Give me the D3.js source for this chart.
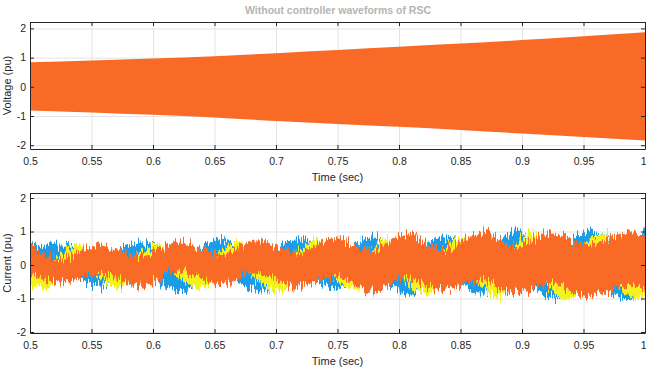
<!DOCTYPE html>
<html>
<head>
<meta charset="utf-8">
<script src="https://cdn.jsdelivr.net/npm/d3@7"></script>
<style>
  body { margin: 0; background: #fff; }
  text { font-family: "Liberation Sans", Arial, sans-serif; }
</style>
</head>
<body>
<script>
// axis ticks
const xTicks = [0.5, 0.55, 0.6, 0.65, 0.7, 0.75, 0.8, 0.85, 0.9, 0.95, 1];
const xTickLabels = ["0.5", "0.55", "0.6", "0.65", "0.7", "0.75", "0.8", "0.85", "0.9", "0.95", "1"];
const yTicks = [-2, -1, 0, 1, 2];
const yTickLabels = ["-2", "-1", "0", "1", "2"];

// top panel: voltage envelope (pu)
const voltageTime  = [0.5, 0.55, 0.6, 0.65, 0.7, 0.75, 0.8, 0.85, 0.9, 0.95, 1.0];
const voltageUpper = [0.84, 0.9, 0.97, 1.05, 1.15, 1.26, 1.37, 1.48, 1.6, 1.73, 1.87];
const voltageLower = [-0.81, -0.88, -0.96, -1.05, -1.17, -1.27, -1.37, -1.48, -1.6, -1.72, -1.84];

// bottom panel: current envelopes (pu), read at the peaks / dips of each band
const blueTime  = [0.5, 0.527, 0.557, 0.592, 0.622, 0.657, 0.688, 0.72, 0.75, 0.778, 0.808, 0.838, 0.868, 0.896, 0.927, 0.955, 0.988, 1.0];
const blueUpper = [0.55, 0.64, 0.3, 0.68, 0.35, 0.78, 0.4, 0.78, 0.45, 0.82, 0.5, 0.86, 0.55, 0.98, 0.6, 1.0, 0.62, 1.15];
const blueLower = [-0.3, -0.25, -0.62, -0.3, -0.78, -0.3, -0.82, -0.35, -0.72, -0.4, -0.86, -0.45, -0.86, -0.5, -1.0, -0.55, -1.05, -0.6];

const yellowTime  = [0.5, 0.51, 0.54, 0.572, 0.605, 0.638, 0.668, 0.7, 0.733, 0.765, 0.79, 0.822, 0.85, 0.88, 0.907, 0.937, 0.963, 0.993, 1.0];
const yellowUpper = [0.15, 0.08, 0.56, 0.08, 0.6, 0.1, 0.68, 0.12, 0.72, 0.15, 0.78, 0.2, 0.84, 0.25, 0.94, 0.3, 0.9, 0.35, 0.4];
const yellowLower = [-0.62, -0.68, -0.08, -0.65, -0.08, -0.7, -0.1, -0.78, -0.12, -0.78, -0.15, -0.85, -0.2, -0.93, -0.25, -1.04, -0.3, -1.02, -0.95];

const orangeTime  = [0.5, 0.525, 0.555, 0.59, 0.622, 0.655, 0.685, 0.717, 0.748, 0.776, 0.806, 0.835, 0.868, 0.893, 0.925, 0.952, 0.988, 1.0];
const orangeUpper = [0.52, 0.16, 0.62, 0.26, 0.7, 0.33, 0.74, 0.37, 0.8, 0.44, 0.92, 0.47, 0.97, 0.56, 1.0, 0.6, 0.95, 0.85];
const orangeLower = [-0.25, -0.52, -0.26, -0.62, -0.2, -0.6, -0.24, -0.65, -0.34, -0.8, -0.39, -0.75, -0.44, -0.85, -0.52, -0.95, -0.62, -0.8];

(()=>{
    const width = 646;
    const height = 378;
    const plotLeft = 30;
    const plotRight = 645;
    const axisColor = "#262626";
    const gridColor = "#e4e4e4";

    const svg = d3.create("svg")
    .attr("width", width)
    .attr("height", height)
    .attr("viewBox", [0, 0, width, height]);

    const defs = svg.append("defs");

    // makes the edges of the current bands spiky like the noisy waveform
    // (vertical displacement only: the red channel is pinned to 0.5)
    const rough = defs.append("filter")
    .attr("id", "rough")
    .attr("filterUnits", "userSpaceOnUse")
    .attr("x", 0).attr("y", 180).attr("width", width).attr("height", 170);
    rough.append("feTurbulence")
    .attr("type", "fractalNoise")
    .attr("baseFrequency", "0.6 0.05")
    .attr("numOctaves", 2)
    .attr("seed", 7)
    .attr("result", "noise");
    rough.append("feColorMatrix")
    .attr("in", "noise")
    .attr("type", "matrix")
    .attr("values", "0 0 0 0 0.5  0 1 0 0 0  0 0 1 0 0  0 0 0 0 1")
    .attr("result", "vnoise");
    rough.append("feDisplacementMap")
    .attr("in", "SourceGraphic")
    .attr("in2", "vnoise")
    .attr("scale", 22)
    .attr("xChannelSelector", "R")
    .attr("yChannelSelector", "G");

    const x = d3.scaleLinear().domain([0.5, 1]).range([plotLeft, plotRight]);

    const panels = [
        { top: 22, bottom: 149, domain: [-2.13, 2.22], ylabel: "Voltage (pu)" },
        { top: 193, bottom: 333, domain: [-2.03, 2.15], ylabel: "Current (pu)" }
    ];

    panels.forEach((p, k) => {
        p.y = d3.scaleLinear().domain(p.domain).range([p.bottom, p.top]);
        const g = svg.append("g");

        // grid
        g.append("g")
        .attr("transform", `translate(0,${p.bottom})`)
        .call(d3.axisBottom(x).tickValues(xTicks).tickSize(-(p.bottom - p.top)).tickFormat(""))
        .call(s => s.select(".domain").remove())
        .call(s => s.selectAll("line").attr("stroke", gridColor));

        g.append("g")
        .attr("transform", `translate(${plotLeft},0)`)
        .call(d3.axisLeft(p.y).tickValues(yTicks).tickSize(-(plotRight - plotLeft)).tickFormat(""))
        .call(s => s.select(".domain").remove())
        .call(s => s.selectAll("line").attr("stroke", gridColor));

        const clipId = "clip" + k;
        defs.append("clipPath").attr("id", clipId)
        .append("rect")
        .attr("x", plotLeft).attr("y", p.top)
        .attr("width", plotRight - plotLeft).attr("height", p.bottom - p.top);

        p.marks = g.append("g").attr("clip-path", `url(#${clipId})`);

        // axes with inward ticks on all four sides
        const bottomAxis = g.append("g")
        .attr("transform", `translate(0,${p.bottom})`)
        .call(d3.axisBottom(x).tickValues(xTicks).tickFormat((d, i) => xTickLabels[i])
            .tickSizeInner(-4).tickSizeOuter(0).tickPadding(9));
        const leftAxis = g.append("g")
        .attr("transform", `translate(${plotLeft},0)`)
        .call(d3.axisLeft(p.y).tickValues(yTicks).tickFormat((d, i) => yTickLabels[i])
            .tickSizeInner(-4).tickSizeOuter(0).tickPadding(4));
        const topAxis = g.append("g")
        .attr("transform", `translate(0,${p.top})`)
        .call(d3.axisTop(x).tickValues(xTicks).tickFormat("").tickSizeInner(-4).tickSizeOuter(0));
        const rightAxis = g.append("g")
        .attr("transform", `translate(${plotRight},0)`)
        .call(d3.axisRight(p.y).tickValues(yTicks).tickFormat("").tickSizeInner(-4).tickSizeOuter(0));

        [bottomAxis, leftAxis, topAxis, rightAxis].forEach(a => {
            a.selectAll("path, line").attr("stroke", axisColor);
            a.selectAll("text").attr("fill", axisColor).style("font-size", "10.5px");
        });

        // last label sits at the very edge of the page
        bottomAxis.selectAll(".tick:last-of-type text").attr("text-anchor", "end").attr("dx", 1);

        g.append("text")
        .attr("x", (plotLeft + plotRight) / 2)
        .attr("y", p.bottom + 32)
        .attr("text-anchor", "middle")
        .attr("fill", axisColor)
        .style("font-size", "11px")
        .text("Time (sec)");

        g.append("text")
        .attr("transform", `translate(11,${(p.top + p.bottom) / 2}) rotate(-90)`)
        .attr("text-anchor", "middle")
        .attr("fill", axisColor)
        .style("font-size", "11px")
        .text(p.ylabel);
    });

    // title
    svg.append("text")
    .attr("x", 338)
    .attr("y", 14)
    .attr("text-anchor", "middle")
    .attr("fill", "#b4b4b4")
    .style("font-size", "10.5px")
    .style("font-weight", "bold")
    .text("Without controller waveforms of RSC");

    const band = (time, upper, lower, y) => d3.area()
        .curve(d3.curveMonotoneX)
        .x(i => x(time[i]))
        .y0(i => y(lower[i]))
        .y1(i => y(upper[i]))(d3.range(time.length));

    // top: voltage
    const yV = panels[0].y;
    panels[0].marks.append("path")
    .attr("d", band(voltageTime, voltageUpper, voltageLower, yV))
    .attr("fill", "#f96a26");

    // bottom: three current phases (blue, then yellow, orange on top)
    const yC = panels[1].y;
    const currents = [
        { time: blueTime, upper: blueUpper, lower: blueLower, color: "#1f9be6" },
        { time: yellowTime, upper: yellowUpper, lower: yellowLower, color: "#f4f21e" },
        { time: orangeTime, upper: orangeUpper, lower: orangeLower, color: "#f96a26" }
    ];
    const cg = panels[1].marks.append("g").attr("filter", "url(#rough)");
    currents.forEach(c => {
        cg.append("path")
        .attr("d", band(c.time, c.upper, c.lower, yC))
        .attr("fill", c.color);
    });

    d3.select("body").append(() => svg.node());
})()
</script>
</body>
</html>
